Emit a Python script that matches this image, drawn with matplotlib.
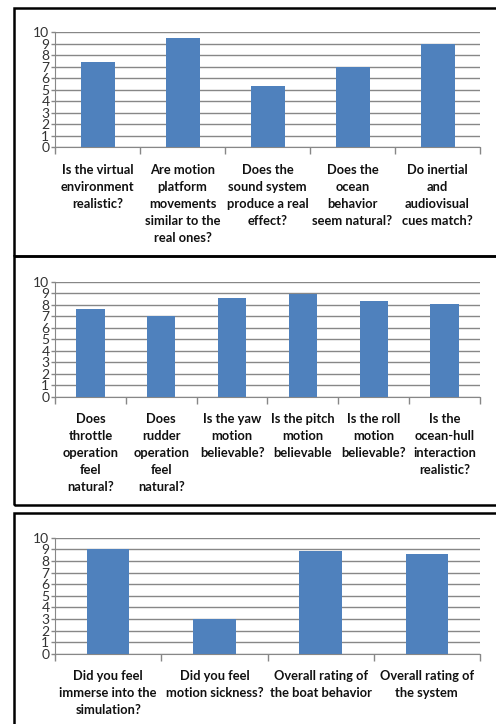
import matplotlib.pyplot as plt
from matplotlib.patches import Rectangle

# survey answers
q1 = ["Is the virtual\nenvironment\nrealistic?",
      "Are motion\nplatform\nmovements\nsimilar to the\nreal ones?",
      "Does the\nsound system\nproduce a real\neffect?",
      "Does the\nocean\nbehavior\nseem natural?",
      "Do inertial\nand\naudiovisual\ncues match?"]
v1 = [7.4, 9.5, 5.35, 7.0, 9.0]

q2 = ["Does\nthrottle\noperation\nfeel\nnatural?",
      "Does\nrudder\noperation\nfeel\nnatural?",
      "Is the yaw\nmotion\nbelievable?",
      "Is the pitch\nmotion\nbelievable",
      "Is the roll\nmotion\nbelievable?",
      "Is the\nocean-hull\ninteraction\nrealistic?"]
v2 = [7.65, 7.05, 8.55, 8.95, 8.35, 8.05]

q3 = ["Did you feel\nimmerse into the\nsimulation?",
      "Did you feel\nmotion sickness?",
      "Overall rating of\nthe boat behavior",
      "Overall rating of\nthe system"]
v3 = [9.0, 3.0, 8.85, 8.6]

W, H = 496, 724
fig = plt.figure(figsize=(W / 100, H / 100), dpi=100)

# frames around the three charts (pixel coords from top)
for top, bot in [(7.5, 256), (256, 505), (512.5, 730)]:
    fig.add_artist(Rectangle((14 / W, 1 - bot / H), 1.1, (bot - top) / H,
                             transform=fig.transFigure, fill=False,
                             edgecolor="black", linewidth=1.8))

panels = [(q1, v1, 147.3, 115), (q2, v2, 396.7, 115), (q3, v3, 653.7, 116)]

for labels, vals, y0, h in panels:
    ax = fig.add_axes([55 / W, 1 - y0 / H, 425 / W, h / H])
    x = range(len(vals))
    ax.bar(x, vals, width=0.4, color="#4F81BD", zorder=3)
    ax.set_xlim(-0.5, len(vals) - 0.5)
    ax.set_ylim(0, 10)
    ax.set_yticks(range(11))
    ax.set_yticklabels([str(i) for i in range(11)], fontsize=10, color="#333333",
                       family=["Lato", "DejaVu Sans"])
    ax.yaxis.grid(True, color="#878787", linewidth=1.0, zorder=0)
    for s in ["top", "right"]:
        ax.spines[s].set_visible(False)
    ax.spines["left"].set_color("#878787")
    ax.spines["bottom"].set_color("#878787")
    ax.tick_params(axis="y", length=3, width=1, color="#878787", pad=1)
    # tick marks between categories, labels in the middle
    ax.set_xticks([i - 0.5 for i in range(len(vals) + 1)])
    ax.set_xticklabels([])
    ax.set_xticks(list(x), minor=True)
    ax.set_xticklabels(labels, minor=True, fontsize=9.3, fontweight="bold",
                       family=["Lato", "DejaVu Sans"], color="#111111",
                       linespacing=1.5, va="top")
    ax.tick_params(axis="x", which="major", length=5, width=1, color="#878787")
    ax.tick_params(axis="x", which="minor", length=0, pad=12)

plt.savefig("out.png", dpi=100)
